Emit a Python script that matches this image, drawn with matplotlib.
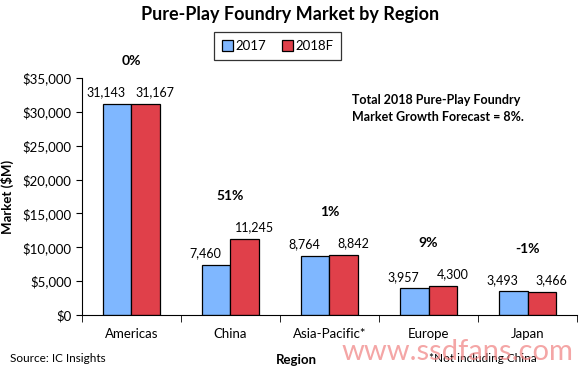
import numpy as np
import matplotlib.pyplot as plt
from matplotlib.ticker import FuncFormatter

plt.rcParams['font.family'] = ['Lato', 'DejaVu Sans']

regions = ['Americas', 'China', 'Asia-Pacific*', 'Europe', 'Japan']
sales_2017 = [31143, 7460, 8764, 3957, 3493]
sales_2018 = [31167, 11245, 8842, 4300, 3466]
growth = ['0%', '51%', '1%', '9%', '-1%']

fig = plt.figure(figsize=(5.8, 3.69), dpi=100)
ax = fig.add_axes([0.141, 0.146, 0.854, 0.643])

x = np.arange(len(regions))
w = 0.29
b1 = ax.bar(x - w / 2, sales_2017, w, color='#7fb7ff', edgecolor='black', linewidth=0.9, label='2017')
b2 = ax.bar(x + w / 2, sales_2018, w, color='#e0404a', edgecolor='black', linewidth=0.9, label='2018F')

# value labels, pushed a bit outward so the pair doesn't collide
for bars, dx in ((b1, -8), (b2, 7)):
    for bar in bars:
        ax.annotate(f'{bar.get_height():,.0f}', (bar.get_x() + bar.get_width() / 2, bar.get_height()),
                    xytext=(dx, 4), textcoords='offset points', ha='center', va='bottom', fontsize=9)

for i, g in enumerate(growth):
    top = max(sales_2017[i], sales_2018[i])
    ax.text(x[i], top + 6300, g, ha='center', va='center', fontsize=10, fontweight='bold')

ax.set_xlim(-0.5, len(regions) - 0.5)
ax.set_ylim(0, 35000)
ax.set_yticks(range(0, 35001, 5000))
ax.yaxis.set_major_formatter(FuncFormatter(lambda v, p: f'${v:,.0f}'))
ax.set_xticks(x)
ax.set_xticklabels(regions)
ax.set_xticks(np.arange(-0.5, len(regions)), minor=True)
ax.tick_params(axis='x', which='major', length=0, pad=9, labelsize=9.5)
ax.tick_params(axis='x', which='minor', length=5, direction='out')
ax.tick_params(axis='y', length=4, labelsize=9.5)
for s in ('top', 'right'):
    ax.spines[s].set_visible(False)

ax.set_ylabel('Market ($M)', fontsize=9.5, fontweight='bold', labelpad=6)
ax.set_xlabel('Region', fontsize=9.5, fontweight='bold')
ax.xaxis.set_label_coords(0.434, -0.165)

fig.suptitle('Pure-Play Foundry Market by Region', fontsize=13, fontweight='bold', y=0.985)
leg = fig.legend(loc='center', bbox_to_anchor=(0.479, 0.875), ncol=2, fontsize=9.5,
                 frameon=True, fancybox=False, edgecolor='black', handlelength=0.8,
                 handleheight=0.8, handletextpad=0.2, columnspacing=1.2, borderpad=0.6)
leg.get_frame().set_linewidth(0.9)

ax.text(0.545, 0.87, 'Total 2018 Pure-Play Foundry\nMarket Growth Forecast = 8%.',
        transform=ax.transAxes, fontsize=9, fontweight='bold', va='center', linespacing=1.5)

fig.text(0.017, 0.02, 'Source: IC Insights', fontsize=8.5)
fig.text(0.74, 0.02, '*Not including China', fontsize=8.5)
# watermark from the source image
fig.text(0.988, 0.025, 'www.ssdfans.com', fontsize=21, color='#f08080', alpha=0.7, ha='right')

plt.savefig('out.png')
